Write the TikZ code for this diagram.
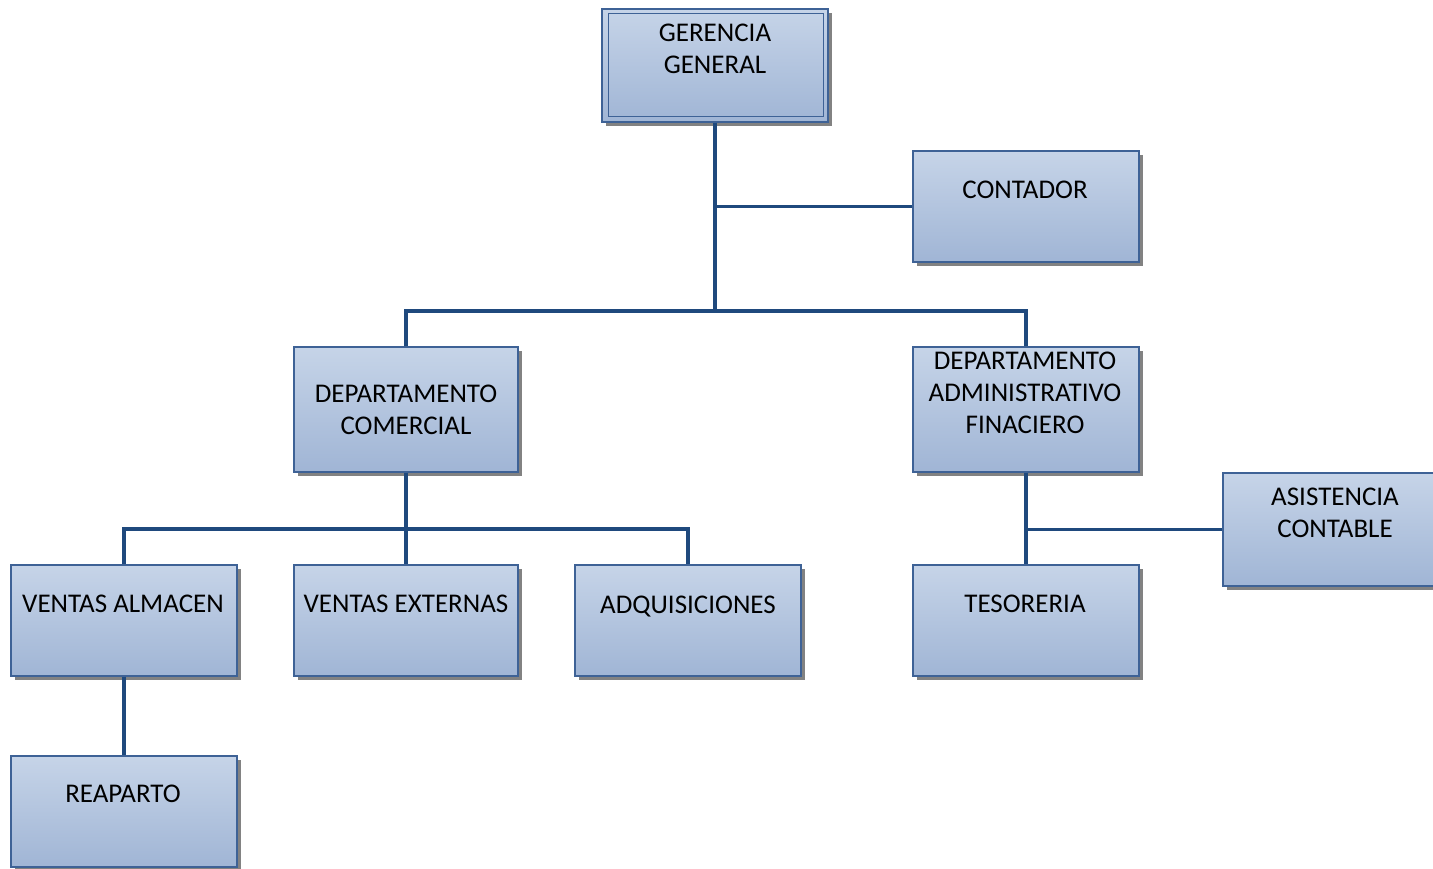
\documentclass[tikz,border=0pt]{standalone}
\usepackage{fontspec}
\setmainfont{Carlito}
\usetikzlibrary{shadows}
\definecolor{boxtop}{RGB}{198,212,232}
\definecolor{boxbot}{RGB}{160,181,213}
\definecolor{boxline}{RGB}{62,98,150}
\definecolor{connline}{RGB}{31,73,125}
\definecolor{shadowgray}{RGB}{130,130,130}
\tikzset{
  orgbox/.style={rectangle, draw=boxline, line width=0.6pt,
    top color=boxtop, bottom color=boxbot, inner sep=0pt,
    drop shadow={shadow xshift=2.2pt, shadow yshift=-2.2pt, fill=shadowgray, opacity=1}},
  orglabel/.style={align=center, inner sep=0pt, font=\fontsize{13.5}{16}\selectfont},
  conn/.style={draw=connline, line width=1.6pt}
}
\begin{document}
\begin{tikzpicture}[x=0.5pt, y=-0.5pt]
\useasboundingbox (0,0) rectangle (1433,868);
\clip (0,0) rectangle (1433,868);
\fill[white] (0,0) rectangle (1433,868);

% boxes (centre, width x height in px)
\node[orgbox, minimum width=113pt, minimum height=56.5pt] (gg) at (715,65.5) {};
\draw[boxline, line width=0.6pt] ([shift={(3.5pt,-2.5pt)}]gg.north west) rectangle ([shift={(-2.5pt,3pt)}]gg.south east);
\node[orgbox, minimum width=113pt, minimum height=55.5pt] (cont) at (1026,206.5) {};
\node[orgbox, minimum width=112pt, minimum height=62.5pt] (com) at (406,409.5) {};
\node[orgbox, minimum width=113pt, minimum height=62.5pt] (adm) at (1026,409.5) {};
\node[orgbox, minimum width=113pt, minimum height=56.5pt] (asis) at (1336,529.5) {};
\node[orgbox, minimum width=113pt, minimum height=55.5pt] (va) at (124,620.5) {};
\node[orgbox, minimum width=112pt, minimum height=55.5pt] (ve) at (406,620.5) {};
\node[orgbox, minimum width=113pt, minimum height=55.5pt] (adq) at (688,620.5) {};
\node[orgbox, minimum width=113pt, minimum height=55.5pt] (tes) at (1026,620.5) {};
\node[orgbox, minimum width=113pt, minimum height=55.5pt] (rea) at (124,811.5) {};

% labels
\node[orglabel] (gg-t) at (715,49) {GERENCIA\\GENERAL};
\node[orglabel] (cont-t) at (1025,190) {CONTADOR};
\node[orglabel] (com-t) at (406,409.5) {DEPARTAMENTO\\COMERCIAL};
\node[orglabel] (adm-t) at (1025,393) {DEPARTAMENTO\\ADMINISTRATIVO\\FINACIERO};
\node[orglabel] (asis-t) at (1335,512.5) {ASISTENCIA\\CONTABLE};
\node[orglabel] (va-t) at (123,604) {VENTAS ALMACEN};
\node[orglabel] (ve-t) at (406,604) {VENTAS EXTERNAS};
\node[orglabel] (adq-t) at (688,607) {ADQUISICIONES};
\node[orglabel] (tes-t) at (1025,604) {TESORERIA};
\node[orglabel] (rea-t) at (123,794) {REAPARTO};

% connectors
\coordinate (bus1) at (716,311);
\coordinate (bus2) at (406,529);
\draw[conn] (gg.south) -- (gg.south |- bus1);
\draw[conn] (gg.south |- cont.west) -- (cont.west);
\draw[conn] (com.north) -- (com.north |- bus1) -- (adm.north |- bus1) -- (adm.north);
\draw[conn] (com.south) -- (ve.north);
\draw[conn] (va.north) -- (va.north |- bus2) -- (adq.north |- bus2) -- (adq.north);
\draw[conn] (va.south) -- (rea.north);
\draw[conn] (adm.south) -- (tes.north);
\draw[conn] (adm.south |- asis.west) -- (asis.west);
\end{tikzpicture}
\end{document}
